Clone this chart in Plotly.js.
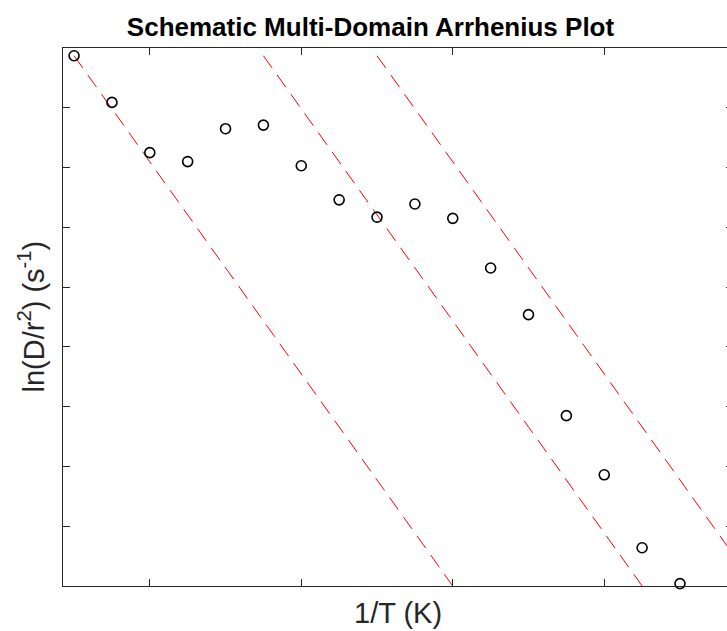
<!DOCTYPE html>
<html>
<head>
<meta charset="utf-8">
<script src="https://cdn.plot.ly/plotly-3.0.1.min.js"></script>
<style>
html,body{margin:0;padding:0;overflow:hidden;background:#fff;}
#chart{width:740px;height:631px;}
</style>
</head>
<body>
<div id="chart"></div>
<script>
// 1/T positions (arbitrary units) and ln(D/r^2) values
const invT = [0.5,0.75,1.0,1.25,1.5,1.75,2.0,2.25,2.5,2.75,3.0,3.25,3.5,3.75,4.0,4.25,4.5];
const lnD  = [8.87,8.09,7.25,7.10,7.65,7.71,7.03,6.46,6.17,6.39,6.15,5.32,4.54,2.85,1.86,0.64,0.04];

// Reference domain lines (start x, end x, top y, bottom y)
const domainStartX = [0.5, 1.75, 2.5];
const domainEndX   = [3.0, 4.25, 5.0];
const domainTopY   = 8.87;
const domainBotY   = 0;

const traces = [];
for (let i = 0; i < domainStartX.length; i++) {
  traces.push({
    x: [domainStartX[i], domainEndX[i]],
    y: [domainTopY, domainBotY],
    mode: 'lines',
    type: 'scatter',
    line: {color: '#ff0000', width: 1, dash: '15px,8.6px'},
    hoverinfo: 'skip',
    showlegend: false
  });
}
traces.push({
  x: invT, y: lnD,
  mode: 'markers',
  type: 'scatter',
  marker: {symbol: 'circle-open', size: 10, color: '#000000', line: {color: '#000000', width: 1.6}},
  showlegend: false,
  cliponaxis: false
});

const axisCommon = {
  showgrid: false, zeroline: false,
  showline: true, linecolor: '#262626', linewidth: 1,
  mirror: 'ticks', ticks: 'inside', ticklen: 7, tickwidth: 1, tickcolor: '#262626',
  showticklabels: false
};

const layout = {
  width: 740, height: 631,
  margin: {l: 63, r: 7, t: 48, b: 45},
  paper_bgcolor: '#ffffff', plot_bgcolor: '#ffffff',
  font: {family: '"Liberation Sans", Arial, sans-serif', color: '#000000'},
  title: {
    text: '<b>Schematic Multi-Domain Arrhenius Plot</b>',
    font: {size: 26, color: '#000000', family: '"Liberation Sans", Arial, sans-serif'},
    xref: 'container', yref: 'container',
    x: 370.5/740, xanchor: 'center',
    y: 1 - 27/631, yanchor: 'middle'
  },
  xaxis: Object.assign({}, axisCommon, {range: [0.427, 4.85], tickvals: [1, 2, 3, 4]}),
  yaxis: Object.assign({}, axisCommon, {range: [0, 9], tickvals: [1,2,3,4,5,6,7,8]}),
  annotations: [
    {text: '1/T (K)', xref: 'paper', yref: 'paper', x: 0.5, y: -0.017, xanchor: 'center', yanchor: 'top',
     showarrow: false, font: {size: 29, color: '#262626'}},
    {text: 'ln(D/r<sup>2</sup>) (s<sup>-1</sup>)', xref: 'paper', yref: 'paper', x: -0.047, y: 0.5,
     xanchor: 'center', yanchor: 'middle', textangle: -90,
     showarrow: false, font: {size: 29, color: '#262626'}}
  ]
};

Plotly.newPlot('chart', traces, layout, {displayModeBar: false, staticPlot: true});
</script>
</body>
</html>
